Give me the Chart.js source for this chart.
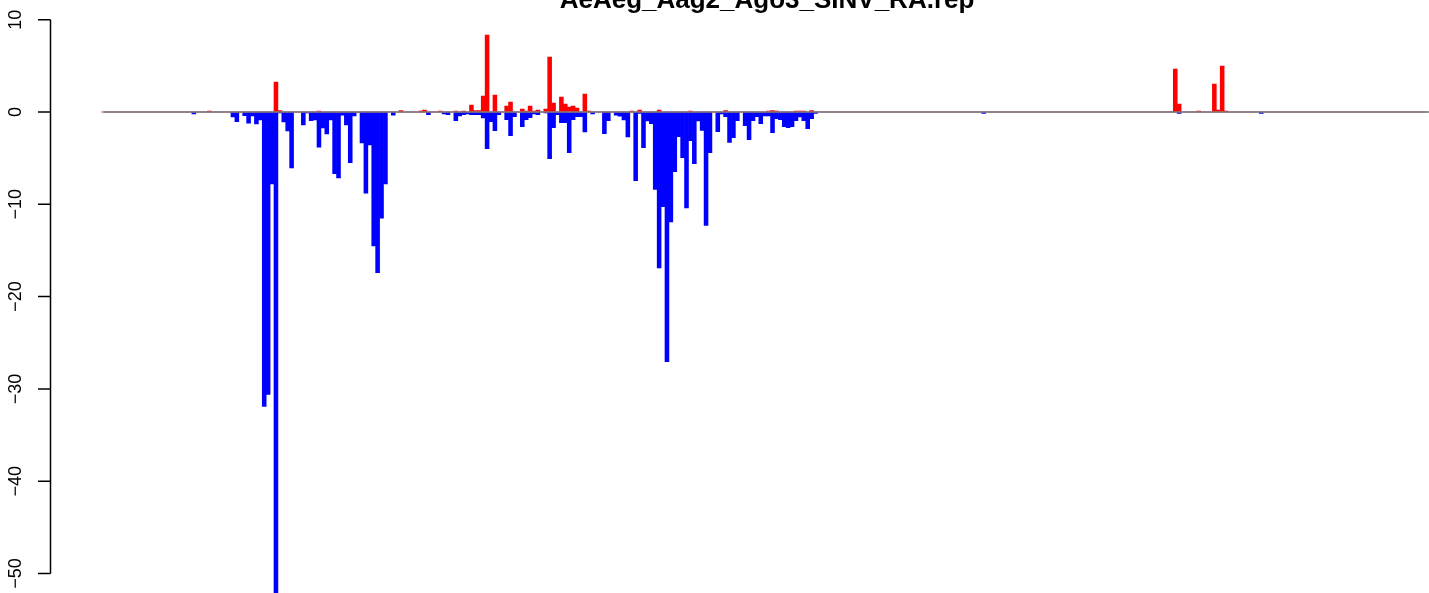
<!DOCTYPE html>
<html>
<head>
<meta charset="utf-8">
<script src="https://cdn.jsdelivr.net/npm/chart.js@4/dist/chart.umd.min.js"></script>
<style>
  html, body { margin: 0; padding: 0; background: #fff; overflow: hidden; }
  #wrap { width: 1429px; height: 593px; }
</style>
</head>
<body>
<div id="wrap"><canvas id="coverageChart" width="1429" height="593"></canvas></div>
<script>
const chartTitle = 'AeAeg_Aag2_Ago3_SINV_RA.rep';

// bins along the genome, 0 .. nBins-1
const nBins = 339;

// dense block of bins starting at clusterStart (bins 23 .. 182)
const clusterStart = 23;
const redCluster = [
  0, 0, 0, 0, 0.1, 0, 0, 0, 0, 0,
  0, 0, 0, 0, 0, 0, 0, 0, 0, 0,
  0, 3.25, 0.15, 0, 0, 0, 0, 0, 0, 0,
  0, 0, 0.1, 0, 0, 0, 0, 0, 0, 0,
  0, 0, 0, 0, 0, 0, 0, 0, 0, 0,
  0, 0, 0, 0.15, 0, 0, 0, 0, 0.1, 0.2,
  0, 0, 0, 0.1, 0, 0, 0, 0.1, 0, 0.1,
  0, 0.76, 0.15, 0.15, 1.73, 8.34, 0, 1.84, 0, 0,
  0.65, 1.08, 0, 0, 0.33, 0.1, 0.65, 0.1, 0.2, 0,
  0.33, 5.96, 0.97, 0, 1.62, 0.87, 0.54, 0.65, 0.43, 0,
  1.95, 0.1, 0, 0, 0, 0, 0, 0, 0, 0,
  0, 0, 0.1, 0, 0.2, 0, 0, 0, 0, 0.22,
  0, 0, 0, 0, 0, 0, 0, 0.1, 0, 0,
  0, 0, 0, 0, 0, 0, 0.15, 0, 0, 0,
  0, 0, 0, 0, 0, 0, 0, 0.1, 0.15, 0.1,
  0, 0, 0, 0, 0.1, 0.1, 0.1, 0, 0.15, 0
];
const blueCluster = [
  -0.2, 0, 0, 0, 0, 0, 0, 0, 0, 0,
  -0.54, -1.05, 0, -0.4, -1.2, -0.43, -1.3, -0.87, -31.9, -30.6,
  -7.8, -52.5, -0.1, -1.08, -2.06, -6.07, 0, 0, -1.4, -0.1,
  -0.94, -0.87, -3.8, -1.73, -2.38, -0.87, -6.68, -7.15, -0.33, -1.4,
  -5.5, -0.43, -0.05, -3.36, -8.78, -3.57, -14.5, -17.4, -11.5, -7.8,
  0, -0.33, 0, 0, 0, 0, 0, 0, 0, 0,
  -0.3, 0, 0, 0, -0.2, -0.3, 0, -0.94, -0.43, -0.3,
  -0.2, -0.3, -0.3, -0.3, -0.65, -3.97, -1.05, -2.02, -0.3, 0,
  -0.83, -2.56, -0.5, 0, -1.59, -0.83, -0.61, -0.2, -0.3, 0,
  -0.1, -5.06, -1.7, -0.3, -1.15, -1.15, -4.4, -0.83, -0.5, -0.5,
  -2.15, 0, -0.2, 0, 0, -2.35, -0.94, 0, -0.35, -0.45,
  -0.87, -2.7, 0, -7.44, -0.15, -3.86, -0.97, -1.26, -8.4, -16.9,
  -10.26, -27.05, -11.9, -6.46, -2.67, -4.95, -10.4, -3.1, -5.6, -0.97,
  -2.0, -12.3, -4.4, 0, -2.13, -0.2, -0.5, -3.3, -2.78, -0.94,
  0, -1.48, -3.0, -0.94, -0.5, -1.26, -0.43, -0.43, -2.24, -0.72,
  -0.83, -1.59, -1.7, -1.59, -0.94, -0.54, -0.94, -1.8, -0.72, -0.15
];

// isolated bins further along
const tailBins = [225, 273, 274, 275, 280, 284, 285, 286, 287, 296];
const tailRed  = [0, 0.05, 4.66, 0.87, 0.1, 3.03, 0.22, 4.98, 0.1, 0];
const tailBlue = [-0.15, 0, 0, -0.15, 0, 0, 0, 0, 0, -0.15];

const yTicks = [10, 0, -10, -20, -30, -40, -50];

// visible window of the plot
let xMin = -13.79, xMax = 338.9;
const yMin = -52.11, yMax = 10;

// where bin 0 sits and how wide one bin is, in canvas pixels
const bin0Center = 103.9;
const binWidth = 3.91;

const redVals = new Array(nBins).fill(0);
const blueVals = new Array(nBins).fill(0);
redCluster.forEach((v, k) => { redVals[clusterStart + k] = v; });
blueCluster.forEach((v, k) => { blueVals[clusterStart + k] = v; });
tailBins.forEach((b, k) => { redVals[b] = tailRed[k]; blueVals[b] = tailBlue[k]; });

const bins = Array.from({ length: nBins }, (_, i) => i);

// y axis + title drawn like R's base graphics
const rAxisPlugin = {
  id: 'rAxis',
  afterDraw(chart) {
    const ctx = chart.ctx;
    const yScale = chart.scales.y;
    const axisX = 50.5;
    ctx.save();
    ctx.strokeStyle = '#000';
    ctx.lineWidth = 1.5;
    ctx.beginPath();
    ctx.moveTo(axisX, yScale.getPixelForValue(yTicks[0]));
    ctx.lineTo(axisX, yScale.getPixelForValue(yTicks[yTicks.length - 1]));
    yTicks.forEach(t => {
      const py = yScale.getPixelForValue(t);
      ctx.moveTo(axisX, py);
      ctx.lineTo(axisX - 12.5, py);
    });
    ctx.stroke();

    ctx.fillStyle = '#000';
    ctx.font = '18px "Liberation Sans", Arial, sans-serif';
    ctx.textAlign = 'center';
    ctx.textBaseline = 'alphabetic';
    yTicks.forEach(t => {
      const py = yScale.getPixelForValue(t);
      ctx.save();
      ctx.translate(20.5, py);
      ctx.rotate(-Math.PI / 2);
      ctx.fillText(String(t).replace('-', '\u2212'), 0, 0);
      ctx.restore();
    });

    ctx.font = 'bold 26px "Liberation Sans", Arial, sans-serif';
    ctx.fillText(chartTitle, 767, 8);
    ctx.restore();
  }
};

const ctx = document.getElementById('coverageChart').getContext('2d');
const chart = new Chart(ctx, {
  type: 'bar',
  data: {
    datasets: [
      {
        type: 'line',
        data: [{ x: 0, y: 0 }, { x: 400, y: 0 }],
        borderColor: '#808080',
        borderWidth: 1.5,
        pointRadius: 0,
        order: 0
      },
      {
        label: 'positive',
        data: bins.map(i => ({ x: i, y: redVals[i] })),
        backgroundColor: '#ff0000',
        order: 1
      },
      {
        label: 'negative',
        data: bins.map(i => ({ x: i, y: blueVals[i] })),
        backgroundColor: '#0000ff',
        order: 1
      }
    ]
  },
  options: {
    responsive: false,
    animation: false,
    devicePixelRatio: 1,
    layout: { autoPadding: false, padding: { left: 50, top: 19.7, right: 0, bottom: 0 } },
    datasets: {
      bar: { grouped: false, barPercentage: 1, categoryPercentage: 1, borderWidth: 0 }
    },
    plugins: {
      legend: { display: false },
      tooltip: { enabled: false },
      title: { display: false }
    },
    scales: {
      x: { type: 'linear', offset: false, min: xMin, max: xMax, display: false },
      y: { min: yMin, max: yMax, display: false }
    }
  },
  plugins: [rAxisPlugin]
});

// make sure bin i lands at bin0Center + i*binWidth whatever padding the layout used
const xs = chart.scales.x;
const pxStart = xs.getPixelForValue(xs.min);
const pxLen = xs.getPixelForValue(xs.max) - pxStart;
if (Math.abs(xs.getPixelForValue(0) - bin0Center) > 0.3 ||
    Math.abs(xs.getPixelForValue(100) - xs.getPixelForValue(0) - 100 * binWidth) > 0.3) {
  xMin = (pxStart - bin0Center) / binWidth;
  xMax = xMin + pxLen / binWidth;
  chart.options.scales.x.min = xMin;
  chart.options.scales.x.max = xMax;
  chart.update();
}
</script>
</body>
</html>
